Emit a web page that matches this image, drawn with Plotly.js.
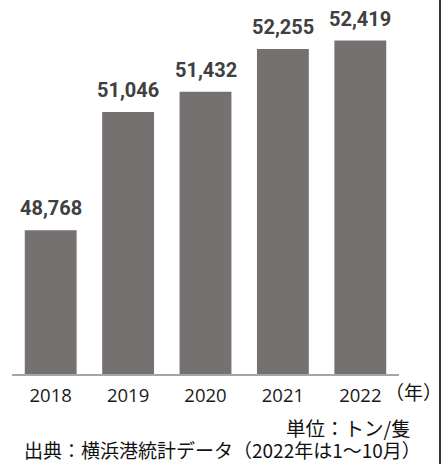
<!DOCTYPE html>
<html><head><meta charset="utf-8">
<script src="https://cdn.plot.ly/plotly-3.0.1.min.js"></script>
<style>html,body{margin:0;padding:0;background:#fff;}#chart{width:445px;height:464px;}</style>
</head><body><div id="chart"></div>
<script>
const years = ['2018', '2019', '2020', '2021', '2022'];
const values = [48768, 51046, 51432, 52255, 52419];
const valueLabels = values.map(v => v.toLocaleString('en-US'));

const W = 445, H = 464;
const m = {l: 12, r: 46, t: 0, b: 90};
const pw = W - m.l - m.r, ph = H - m.t - m.b;
const px = x => (x - m.l) / pw;
const py = y => (H - m.b - y) / ph;

const cjk = '"Noto Sans CJK JP", sans-serif';

const annotations = years.map((yr, i) => ({
  x: i, y: values[i], xref: 'x', yref: 'y', text: valueLabels[i],
  showarrow: false, yanchor: 'bottom', yshift: 8,
  font: {family: 'Roboto, "Noto Sans", sans-serif', size: 20, color: '#404040', weight: 'bold'}
}));
annotations.push(
  {x: px(413), y: py(391), xref: 'paper', yref: 'paper', text: '（年）', showarrow: false,
   xanchor: 'center', yanchor: 'middle', font: {family: cjk, size: 19, color: '#111'}},
  {x: px(413), y: py(428), xref: 'paper', yref: 'paper', text: '単位：トン/隻', showarrow: false,
   xanchor: 'right', yanchor: 'middle', font: {family: cjk, size: 19.5, color: '#111'}},
  {x: px(22), y: py(449.5), xref: 'paper', yref: 'paper', text: '出典：横浜港統計データ（2022年は1～10月）', showarrow: false,
   xanchor: 'left', yanchor: 'middle', font: {family: cjk, size: 19, color: '#111'}}
);

Plotly.newPlot('chart', [{
  type: 'bar', x: years, y: values,
  marker: {color: '#767171'}, hoverinfo: 'none'
}], {
  width: W, height: H, margin: m,
  paper_bgcolor: '#fff', plot_bgcolor: '#fff',
  bargap: 0.33, showlegend: false,
  xaxis: {type: 'category', range: [-0.5, 4.5], showline: true, linecolor: '#a6a6a6', linewidth: 1.5,
          ticks: 'outside', ticklen: 4, tickcolor: 'rgba(0,0,0,0)',
          tickfont: {family: '"Open Sans", sans-serif', size: 18.5, color: '#1a1a1a'}, fixedrange: true},
  yaxis: {range: [46000, 53200], visible: false, fixedrange: true},
  annotations: annotations,
  shapes: [{type: 'line', xref: 'paper', yref: 'paper', x0: px(440), x1: px(440), y0: py(470), y1: py(-5),
            line: {color: '#333', width: 2}}]
}, {displayModeBar: false, staticPlot: true});
</script></body></html>
